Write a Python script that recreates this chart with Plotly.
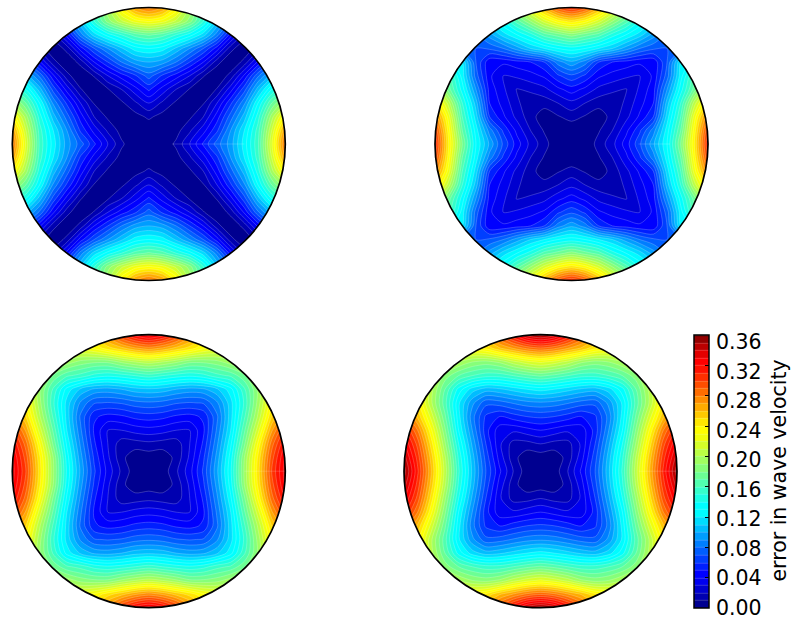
import numpy as np
import plotly.graph_objects as go

W, H = 791, 619

# grid nodes of one quadrant, the other three are mirrored
nodes = [0.0, 0.1, 0.2, 0.3, 0.4, 0.5, 0.6, 0.7, 0.8, 0.9, 1.0]

# each row is one y node (0 to 1), each column one x node (0 to 1)
panel_a = [
    [.000, .002, .012, .030, .052, .075, .095, .125, .158, .218, .285],
    [.002, .000, .006, .018, .036, .058, .090, .120, .155, .210, .270],
    [.012, .006, .000, .008, .020, .045, .075, .105, .145, .195, .240],
    [.030, .018, .008, .000, .009, .030, .058, .088, .130, .170, .200],
    [.052, .036, .020, .009, .000, .011, .036, .066, .105, .140, .160],
    [.075, .058, .045, .030, .011, .000, .014, .042, .078, .105, .120],
    [.100, .095, .080, .060, .040, .014, .000, .014, .042, .070, .085],
    [.130, .125, .108, .090, .070, .045, .014, .000, .016, .040, .060],
    [.172, .165, .150, .135, .115, .085, .045, .016, .000, .016, .035],
    [.232, .225, .208, .185, .150, .110, .075, .040, .016, .000, .012],
    [.285, .272, .240, .200, .160, .120, .085, .060, .035, .012, .000],
]
panel_b = [
    [.000, .002, .014, .027, .045, .068, .098, .130, .180, .240, .310],
    [.002, .000, .009, .020, .037, .058, .085, .125, .170, .235, .300],
    [.014, .009, .004, .014, .027, .042, .060, .115, .160, .225, .280],
    [.027, .020, .014, .010, .023, .036, .050, .105, .150, .205, .250],
    [.045, .037, .027, .023, .019, .032, .046, .090, .135, .175, .215],
    [.068, .058, .042, .036, .032, .030, .042, .075, .125, .165, .185],
    [.098, .085, .060, .050, .046, .042, .042, .070, .120, .135, .155],
    [.135, .130, .120, .110, .095, .080, .072, .070, .075, .100, .125],
    [.185, .175, .165, .145, .130, .115, .095, .078, .080, .095, .115],
    [.245, .235, .215, .190, .165, .140, .120, .102, .095, .100, .120],
    [.310, .295, .265, .230, .200, .170, .145, .125, .115, .120, .125],
]
panel_c = [
    [.000, .004, .018, .036, .062, .098, .138, .192, .245, .300, .335],
    [.004, .003, .013, .032, .058, .094, .135, .190, .242, .295, .332],
    [.017, .015, .014, .030, .052, .088, .128, .178, .232, .285, .322],
    [.036, .034, .030, .030, .048, .082, .120, .168, .216, .268, .305],
    [.055, .053, .048, .046, .052, .078, .116, .158, .202, .250, .280],
    [.078, .076, .071, .069, .071, .088, .116, .152, .194, .238, .265],
    [.108, .106, .100, .096, .098, .108, .126, .158, .192, .232, .255],
    [.155, .150, .145, .142, .146, .156, .162, .178, .205, .240, .262],
    [.205, .200, .192, .182, .182, .186, .196, .210, .230, .258, .285],
    [.275, .268, .256, .245, .232, .225, .225, .234, .250, .270, .295],
    [.335, .325, .305, .278, .255, .240, .235, .235, .250, .270, .300],
]
panel_d = [
    [.000, .004, .020, .042, .070, .108, .152, .206, .260, .312, .355],
    [.004, .003, .014, .036, .066, .105, .148, .202, .255, .306, .345],
    [.020, .016, .016, .032, .060, .098, .140, .192, .245, .296, .332],
    [.040, .036, .032, .034, .054, .090, .130, .182, .232, .280, .315],
    [.062, .060, .055, .050, .058, .084, .124, .172, .216, .258, .288],
    [.088, .086, .081, .075, .073, .093, .122, .164, .202, .244, .270],
    [.124, .120, .114, .108, .105, .115, .136, .170, .204, .240, .262],
    [.172, .167, .160, .154, .154, .160, .170, .186, .212, .245, .270],
    [.222, .216, .206, .192, .186, .190, .200, .216, .236, .262, .290],
    [.288, .282, .270, .258, .242, .235, .235, .245, .262, .280, .305],
    [.355, .345, .322, .295, .270, .252, .245, .246, .260, .280, .312],
]

tick_vals = [0.00, 0.04, 0.08, 0.12, 0.16, 0.20, 0.24, 0.28, 0.32, 0.36]
bar_title = "error in wave velocity"

# faint seam on the right hand side of each disc, start and end radius
seams = [(0.17, 0.70), (0.49, 0.72), (0.70, 1.0), (0.72, 1.0)]

# same stops as the matplotlib jet map
jet = [
    [0.00, "rgb(0,0,128)"], [0.11, "rgb(0,0,255)"], [0.125, "rgb(0,0,255)"],
    [0.35, "rgb(0,255,255)"], [0.375, "rgb(0,255,255)"],
    [0.64, "rgb(255,255,0)"], [0.66, "rgb(255,255,0)"],
    [0.89, "rgb(255,0,0)"], [0.91, "rgb(255,0,0)"], [1.00, "rgb(128,0,0)"],
]

# pixel centres of the four discs
centres = [(148.8, 144.0), (571.5, 144.0), (148.8, 471.2), (540.5, 471.2)]
radius = 136.5
pad = 1.03  # axis half range, a bit over the disc so the outline is not clipped

bar_left, bar_right, bar_top, bar_bottom = 694.3, 709.0, 335.0, 608.0
# labels sit on a slightly tighter spacing than the ticks in the original
label_top, label_bottom = 342.0, 608.0

fig = go.Figure()
shapes = []

x_full = np.r_[-np.array(nodes[:0:-1]), nodes]

# white mask with a round hole, used to cut the contours to a disc
t = np.linspace(0, 2 * np.pi, 241)
hole = "M" + " L".join(f"{np.cos(a):.4f},{np.sin(a):.4f}" for a in t) + " Z"
square = f"M{-pad},{-pad} L{pad},{-pad} L{pad},{pad} L{-pad},{pad} Z"

panels = [panel_a, panel_b, panel_c, panel_d]
layout_axes = {}
for i, (vals, (cx, cy)) in enumerate(zip(panels, centres)):
    q = np.array(vals)
    z = np.vstack([q[:0:-1], q])
    z = np.hstack([z[:, :0:-1], z])
    last = i == 3
    suffix = "" if i == 0 else str(i + 1)
    fig.add_trace(go.Contour(
        x=x_full, y=x_full, z=z,
        xaxis="x" + suffix, yaxis="y" + suffix,
        colorscale=jet, zmin=0, zmax=0.36, zauto=False,
        autocontour=False,
        contours=dict(start=0.0, end=0.36, size=0.01, coloring="fill"),
        line=dict(color="rgba(255,255,255,0.35)", width=0.6, smoothing=0.8),
        hoverinfo="skip",
        showscale=last,
        colorbar=dict(
            x=bar_left / W, xanchor="left", xpad=0,
            y=1 - (bar_top + bar_bottom) / 2 / H, yanchor="middle", ypad=0,
            len=bar_bottom - bar_top, lenmode="pixels",
            thickness=bar_right - bar_left, thicknessmode="pixels",
            outlinecolor="black", outlinewidth=1.5,
            tickvals=tick_vals, showticklabels=False,
            ticks="inside", ticklen=4, tickcolor="black",
        ),
    ))
    half = radius * pad
    axis = dict(visible=False, range=[-pad, pad], fixedrange=True)
    layout_axes["xaxis" + suffix] = dict(axis, domain=[(cx - half) / W, (cx + half) / W])
    layout_axes["yaxis" + suffix] = dict(axis, domain=[1 - (cy + half) / H, 1 - (cy - half) / H])
    shapes.append(dict(type="line", xref="x" + suffix, yref="y" + suffix,
                       x0=seams[i][0], x1=seams[i][1], y0=0, y1=0,
                       line=dict(color="rgba(255,255,255,0.25)", width=0.7), layer="above"))
    shapes.append(dict(type="path", xref="x" + suffix, yref="y" + suffix,
                       path=square + " " + hole, fillcolor="white",
                       fillrule="evenodd", line=dict(width=0), layer="above"))
    shapes.append(dict(type="circle", xref="x" + suffix, yref="y" + suffix,
                       x0=-1, x1=1, y0=-1, y1=1,
                       line=dict(color="black", width=1.7), layer="above"))

# colorbar ticks also sit on the left edge of the bar
for v in tick_vals[1:-1]:
    ty = bar_bottom - (bar_bottom - bar_top) * v / 0.36
    shapes.append(dict(type="line", xref="paper", yref="paper",
                       x0=bar_left / W, x1=(bar_left + 4) / W,
                       y0=1 - ty / H, y1=1 - ty / H,
                       line=dict(color="black", width=1), layer="above"))

notes = [dict(text=bar_title, xref="paper", yref="paper",
              x=778 / W, y=1 - 470.5 / H,
              showarrow=False, textangle=-90,
              xanchor="center", yanchor="middle",
              font=dict(family="DejaVu Sans", size=20.5, color="black"))]
for v in tick_vals:
    ly = label_bottom - (label_bottom - label_top) * v / 0.36
    notes.append(dict(text=f"{v:.2f}", xref="paper", yref="paper",
                      x=715 / W, y=1 - ly / H, showarrow=False,
                      xanchor="left", yanchor="middle", borderpad=0,
                      font=dict(family="DejaVu Sans", size=20.5, color="black")))

fig.update_layout(
    width=W, height=H,
    margin=dict(l=0, r=0, t=0, b=0),
    paper_bgcolor="white", plot_bgcolor="white",
    font=dict(family="DejaVu Sans"),
    shapes=shapes,
    annotations=notes,
    **layout_axes,
)

# drop the default page margin so the figure starts at the window corner
fig.write_html("out.html", post_script="document.body.style.margin='0';",
               config={"displayModeBar": False})
